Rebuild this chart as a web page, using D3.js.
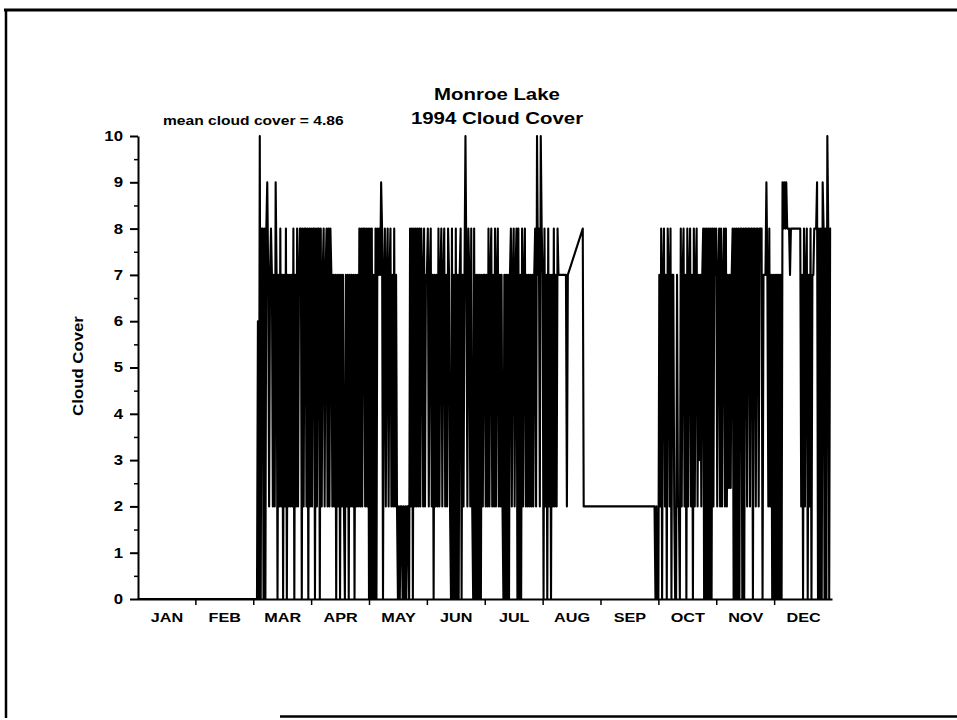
<!DOCTYPE html>
<html><head><meta charset="utf-8">
<script src="https://cdn.jsdelivr.net/npm/d3@7"></script>
<style>
body{margin:0;background:#fff}
svg{display:block}
text{font-family:"Liberation Sans",Arial,Helvetica,sans-serif;font-weight:bold;fill:#000}
</style>
</head><body><svg id="c" width="957" height="720"></svg>
<script>
const _ = null;
const chartTitle = ["Monroe Lake", "1994 Cloud Cover"];
const meanLabel = "mean cloud cover = 4.86";
const yLabel = "Cloud Cover";
const monthLabels = ["JAN","FEB","MAR","APR","MAY","JUN","JUL","AUG","SEP","OCT","NOV","DEC"];
const monthTicks = [1,2,3,4,5,6,7,8,9,10,11];
const yTickValues = [0,1,2,3,4,5,6,7,8,9,10];
const yMinorTicks = [0.5,1.5,2.5,3.5,4.5,5.5,6.5,7.5,8.5,9.5];

const janValues = [0,0,0,0];
const febValues = [0,0,0,0];
const marValues = [0,0,0,0,0,6,0,10,0,8, 8,0,8,0,8,9,7,2,7,8, 7,2,7,2,9,7,0,7,2,8, 2,7,0,7,2,8,0,7,2,7, 2,7,2,8,0,7,2,8,2,7, 8,8,0,8,2,8,8,2,8,0, 8,2];
const aprValues = [8,2,8,8,0,8,2,8,8,0, 8,2,7,8,2,7,8,2,8,2,8,7,2, 7,2,7,0,7,2,7,0,7,2,7,2,0,7,2,7,0,7,2,7,2,7,0,7,2,7,2, 8,2,8,2,8,8,2,8,2,8];
const mayValues = [0,8,0,8,0,7,0,8,0, 8,7,8,7,9,8,0,7,8,2,7, 8,2,7,8,2,7,2,8,2,7, 2,0,2,0,2,2,0,2,0,2,0,2,2,0, 8,2,8,0,8,2,8,2,8,2, 8,2,8,7,2,8,2,7];
const junValues = [7,8,2,7,8,2,7,0,7,2,7,2, 8,2,7,8,2,7,8,2,7,2,8,7,2, 0,8,0,7,0,8,0, 7,0,7,8,0,7, 2,7,10,7,2,8,7,2,8,2, 0,8,0,7,0,7,0,7,0,7,2,7];
const julValues = [7,2,7,2, 8,2,7,8,2,7,2,8,2,7,8,2, 7,2,7,2, 0,7,0,7,0,7,0,7, 8,2,7,8,2,7,8, 0,8,0,7,0,8, 2,7,8,2, 7,2,7,2,7,2,7,2,7, 8,2,10,7,8,2,10,8];
const augValues = [7,0,8,2,7,0,8,2,7,0,7,2,8,2,7,2,8,7, 7,7,7,7,7,7,7,7, 2, 7, _,_,_,_,_,_,_,_,_,_,_,_,_,_,_, 8, 2, _,_,_,_,_,_,_,_,_,_,_,_,_,_,_,_,_];
const sepValues = [_,_,_,_,_,_,_,_,_,_,_,_,_,_,_,_,_,_,_,_,_,_,_,_,_,_,_,_,_,_,_,_,_,_,_,_,_,_,_,_,_,_,_,_,_,_,_,_,_,_,_,_,_,_,_,_, 2,0,2,0];
const octValues = [0,7,2,8,0,7,8,2,7,0,8,7,2,8,0,7, 7,2,0,0,7,2,2,0, 8,2,7,8,2,7,0,8,2,7,8,2,7,0,8,2,7,8,2, 7,3,7,2,7, 8,0,8,0,8,0,8,0,8,0, 8,2,8,7];
const novValues = [8,2,7,8,2,8,2,7,8,2,8,2, 7,2.4,7,2.4,7, 8,0,8,0,8,0,8,0,8,8,0,8,0,8, 8,2,8,8,2,8,8,0,8,8,2,8,8,2,8, 8,8,0,7,7, 7,9,7,2,8,2,7,0,7];
const decValues = [0,7,0,7,0,7,0,7,0, 9,8,9,8,9, 8,8,8,7,8,8,8,8,8,8,8,8,8,8, 8,2,7,0,8,2,7,8,0,7,2,8,0,7, 7,8,8,8,9, 0,8,0,8,0,9,8,0,8,0,10,8,0,8,8];
const monthSeries = [janValues,febValues,marValues,aprValues,mayValues,junValues,julValues,augValues,sepValues,octValues,novValues,decValues];

const SX = 1.2;
const svg = d3.select("#c");
const x = d3.scaleLinear().domain([0,12]).range([137.5, 832]);
const y = d3.scaleLinear().domain([0,10]).range([599, 136]);

// frame
svg.append("line").attr("x1",4).attr("x2",957).attr("y1",10).attr("y2",10).attr("stroke","#000").attr("stroke-width",3);
svg.append("line").attr("x1",6).attr("x2",6).attr("y1",9).attr("y2",718).attr("stroke","#000").attr("stroke-width",2.5);
svg.append("line").attr("x1",280).attr("x2",957).attr("y1",716.5).attr("y2",716.5).attr("stroke","#000").attr("stroke-width",2.5);

function stext(px, py, str, size, anchor, rot){
  return svg.append("text").attr("font-size", size).attr("text-anchor", anchor||"start")
    .attr("transform", `translate(${px},${py})` + (rot?` rotate(${rot})`:"") + ` scale(${SX},1)`).text(str);
}
stext(497, 100, chartTitle[0], 17, "middle");
stext(497, 124, chartTitle[1], 17, "middle");
stext(163, 125, meanLabel, 13, "start");
stext(83, 366, yLabel, 14, "middle", -90);

// data line
const points = [];
monthSeries.forEach((arr, m) => {
  arr.forEach((v, i) => { if (v !== null) points.push({t: m + i/arr.length, v: v}); });
});
const line = d3.line().x(d => x(d.t)).y(d => y(d.v));
svg.append("path").datum(points).attr("d", line).attr("fill","none")
  .attr("stroke","#000").attr("stroke-width",2.1).attr("stroke-linejoin","round");

// y axis
const gy = svg.append("g").attr("transform","translate(138,0)")
  .call(d3.axisLeft(y).tickValues(yTickValues).tickSize(8).tickSizeOuter(0).tickFormat(d3.format("d")));
gy.select(".domain").attr("stroke-width",2);
gy.selectAll(".tick line").attr("stroke-width",2);
gy.selectAll(".tick text").attr("font-size",14).attr("font-family",null)
  .attr("x", -15/SX).attr("transform",`scale(${SX},1)`);
const gym = svg.append("g").attr("transform","translate(138,0)")
  .call(d3.axisLeft(y).tickValues(yMinorTicks).tickSize(4).tickFormat(""));
gym.select(".domain").remove();
gym.selectAll(".tick line").attr("stroke-width",1.5);

// x axis
const gx = svg.append("g").attr("transform","translate(0,599)")
  .call(d3.axisBottom(x).tickValues(monthTicks).tickSize(6).tickSizeOuter(0).tickFormat(""));
gx.select(".domain").attr("stroke-width",2);
gx.selectAll(".tick line").attr("stroke-width",1.5);
const gxl = svg.append("g").attr("transform","translate(0,599)")
  .call(d3.axisBottom(x).tickValues(monthLabels.map((d,i)=>i+0.5)).tickSize(0).tickPadding(13)
    .tickFormat(d => monthLabels[Math.floor(d)]));
gxl.select(".domain").remove();
gxl.selectAll(".tick text").attr("font-size",13.5).attr("font-family",null).attr("transform",`scale(${SX},1)`);
</script>
</body></html>
